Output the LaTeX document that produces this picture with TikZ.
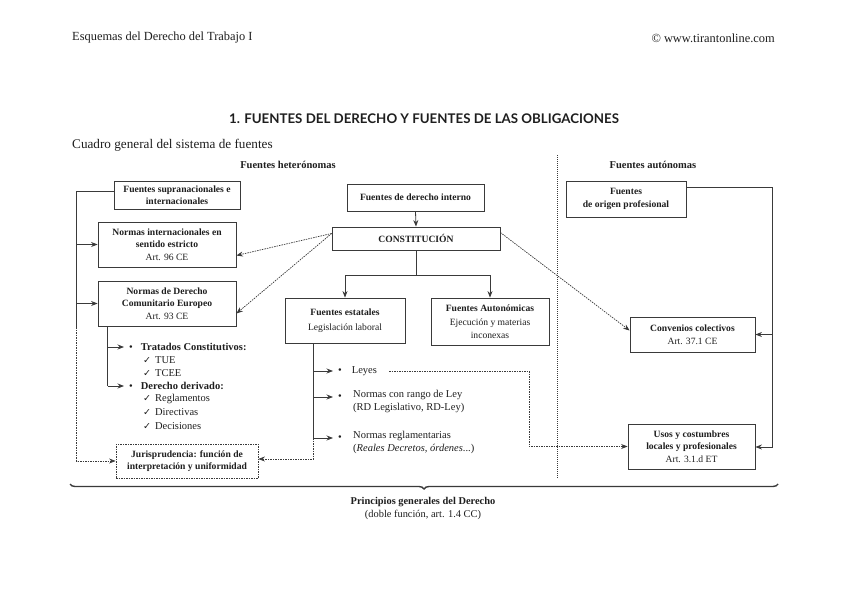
\documentclass[tikz,border=0pt]{standalone}
\usepackage{fontspec}
\setmainfont{Liberation Serif}
\newfontfamily\titlefont{Lato}
\newfontfamily\symfont{DejaVu Sans}
\usetikzlibrary{arrows.meta,decorations.pathreplacing}
\definecolor{ln}{HTML}{3A3A3A}
\definecolor{tx}{HTML}{1E1E1E}
\newcommand{\ck}{{\symfont\fontsize{9.5}{11}\selectfont ✓}}
\begin{document}
\begin{tikzpicture}[x=1pt,y=-1pt,
  every node/.style={text=tx},
  box/.style={draw=ln, line width=0.8pt, align=center, inner sep=1pt,
    font=\fontsize{9.6}{12.5}\selectfont},
  dbox/.style={box, dashed, dash pattern=on 1.5pt off 1pt},
  arr/.style={draw=ln, line width=0.8pt, -{Stealth[length=6.5pt,width=5pt]}},
  ln/.style={draw=ln, line width=0.8pt},
  dl/.style={draw=ln, line width=0.7pt, dash pattern=on 1.5pt off 1pt},
  darr/.style={dl, -{Stealth[length=6.5pt,width=5pt]}},
  lst/.style={anchor=west, inner sep=0pt, font=\fontsize{10.5}{13.5}\selectfont},
]
\useasboundingbox (0,0) rectangle (848,599);

% header
\node[anchor=west, inner sep=0pt, font=\fontsize{12.4}{14}\selectfont] (hl) at (72,38) {Esquemas del Derecho del Trabajo I};
\node[anchor=east, inner sep=0pt, font=\fontsize{12.4}{14}\selectfont] (hr) at (775,38) {© www.tirantonline.com};
\node[inner sep=0pt, font=\titlefont\bfseries\fontsize{13.3}{15}\selectfont] (title) at (424,119) {1. FUENTES DEL DERECHO Y FUENTES DE LAS OBLIGACIONES};
\node[anchor=west, inner sep=0pt, font=\fontsize{13.2}{15}\selectfont] (sub) at (72,145) {Cuadro general del sistema de fuentes};
\node[inner sep=0pt, font=\bfseries\fontsize{10.5}{12}\selectfont] (het) at (288,165) {Fuentes heterónomas};
\node[inner sep=0pt, font=\bfseries\fontsize{10.5}{12}\selectfont] (aut) at (653,165) {Fuentes autónomas};

% separator
\draw[draw=ln, line width=0.8pt, dash pattern=on 1pt off 1pt] (557,155) -- (557,478);

% boxes
\node[box, minimum width=126, minimum height=28] (supra) at (177,195) {\textbf{Fuentes supranacionales e}\\\textbf{internacionales}};
\node[box, minimum width=138, minimum height=45] (normint) at (167,244.5) {\textbf{Normas internacionales en}\\\textbf{sentido estricto}\\Art. 96 CE};
\node[box, minimum width=138, minimum height=45] (normcom) at (167,303.5) {\textbf{Normas de Derecho}\\\textbf{Comunitario Europeo}\\Art. 93 CE};
\node[box, minimum width=137, minimum height=27] (interno) at (415.5,197.5) {\textbf{Fuentes de derecho interno}};
\node[box, minimum width=168, minimum height=23] (const) at (416,238.5) {\textbf{CONSTITUCIÓN}};
\node[box, minimum width=120, minimum height=45, font=\fontsize{9.6}{15}\selectfont] (estat) at (345,320.5) {\textbf{Fuentes estatales}\\Legislación laboral};
\node[box, minimum width=118, minimum height=47] (autonom) at (490,321.5) {\textbf{Fuentes Autonómicas}\\[2pt]Ejecución y materias\\inconexas};
\node[box, minimum width=120, minimum height=36] (origen) at (626,199) {\textbf{Fuentes}\\\textbf{de origen profesional}};
\node[box, minimum width=125, minimum height=35] (conven) at (692.5,334.5) {\textbf{Convenios colectivos}\\Art. 37.1 CE};
\node[box, minimum width=127, minimum height=45] (usos) at (691.5,446.5) {\textbf{Usos y costumbres}\\\textbf{locales y profesionales}\\Art. 3.1.d ET};
\node[dbox, minimum width=142, minimum height=34] (juris) at (187,461) {\textbf{Jurisprudencia: función de}\\\textbf{interpretación y uniformidad}};

% left bracket
\coordinate (L1) at (76.5,191);
\coordinate (L2) at (76.5,327);
\coordinate (L3) at (76.5,461);
\draw[ln] (supra.west |- L1) -- (L1) -- (L2);
\draw[arr] (L1 |- normint.west) -- (normint.west);
\draw[arr] (L1 |- normcom.west) -- (normcom.west);
\draw[darr] (L2) -- (L3) -- (juris.west);

% EU list
\node[lst] (tc) at (129,347) {•\hspace{8pt}\textbf{Tratados Constitutivos:}};
\node[lst] (tue) at (143,360) {\ck\hspace{4pt}TUE};
\node[lst] (tcee) at (143,373) {\ck\hspace{4pt}TCEE};
\node[lst] (dd) at (129,386) {•\hspace{8pt}\textbf{Derecho derivado:}};
\node[lst] (regl) at (143,399) {\ck\hspace{4pt}Reglamentos};
\node[lst] (dire) at (143,412) {\ck\hspace{4pt}Directivas};
\node[lst] (deci) at (143,426) {\ck\hspace{4pt}Decisiones};
\coordinate (E1) at (107.5,326);
\coordinate (E2) at (107.5,386);
\draw[ln] (E1) -- (E2);
\draw[arr] (E1 |- tc.west) -- ([xshift=-5pt]tc.west);
\draw[arr] (E2) -- ([xshift=-5pt]dd.west);

% constitution links
\draw[arr] (interno.south) -- (const.north);
\coordinate (S) at (416,275);
\draw[ln] (const.south) -- (S);
\draw[arr] (S) -| (estat.north);
\draw[arr] (S) -| (autonom.north);
\draw[darr] ([yshift=5pt]const.west) -- ([yshift=-11pt]normint.east);
\draw[darr] ([yshift=5pt]const.west) -- ([yshift=-10pt]normcom.east);
\draw[darr] ([yshift=6pt]const.east) -- ([yshift=4pt]conven.west);

% state list
\node[lst] (leyes) at (338,371) {•\hspace{10pt}Leyes};
\node[lst] (b2) at (338,397) {•};
\node[anchor=north west, align=left, inner sep=0pt, font=\fontsize{10.5}{13.5}\selectfont] (ncr) at (353,390) {Normas con rango de Ley\\(RD Legislativo, RD-Ley)};
\node[lst] (b3) at (338,438) {•};
\node[anchor=north west, align=left, inner sep=0pt, font=\fontsize{10.5}{13.5}\selectfont] (nreg) at (353,431) {Normas reglamentarias\\(\textit{Reales Decretos, órdenes}...)};
\coordinate (V1) at (313,343);
\coordinate (V2) at (313,438);
\coordinate (V3) at (313,459);
\draw[ln] (V1) -- (V2);
\draw[arr] (V1 |- leyes.west) -- ([xshift=-5pt]leyes.west);
\draw[arr] (V1 |- b2.west) -- ([xshift=-5pt]b2.west);
\draw[arr] (V2) -- ([xshift=-5pt]b3.west);
\draw[darr] (V2) -- (V3) -- (juris.east |- V3);
\coordinate (D1) at (529,371);
\draw[darr] ([xshift=12pt]leyes.east) -- (D1) -- (D1 |- usos.west) -- (usos.west);

% right bracket
\coordinate (R1) at (772,187);
\coordinate (R2) at (772,447);
\draw[arr] (origen.east |- R1) -- (R1) -- (R2) -- (R2 -| usos.east);
\draw[arr] (R1 |- conven.east) -- (conven.east);

% brace
\draw[draw=ln, line width=1.4pt, decorate, decoration={brace, mirror, amplitude=5pt, aspect=0.5}] (70,484) -- (778,484);
\node[inner sep=0pt, font=\bfseries\fontsize{10.4}{12}\selectfont] (pg) at (423,502) {Principios generales del Derecho};
\node[inner sep=0pt, font=\fontsize{10.4}{12}\selectfont] (pg2) at (423,515) {(doble función, art. 1.4 CC)};
\end{tikzpicture}
\end{document}
